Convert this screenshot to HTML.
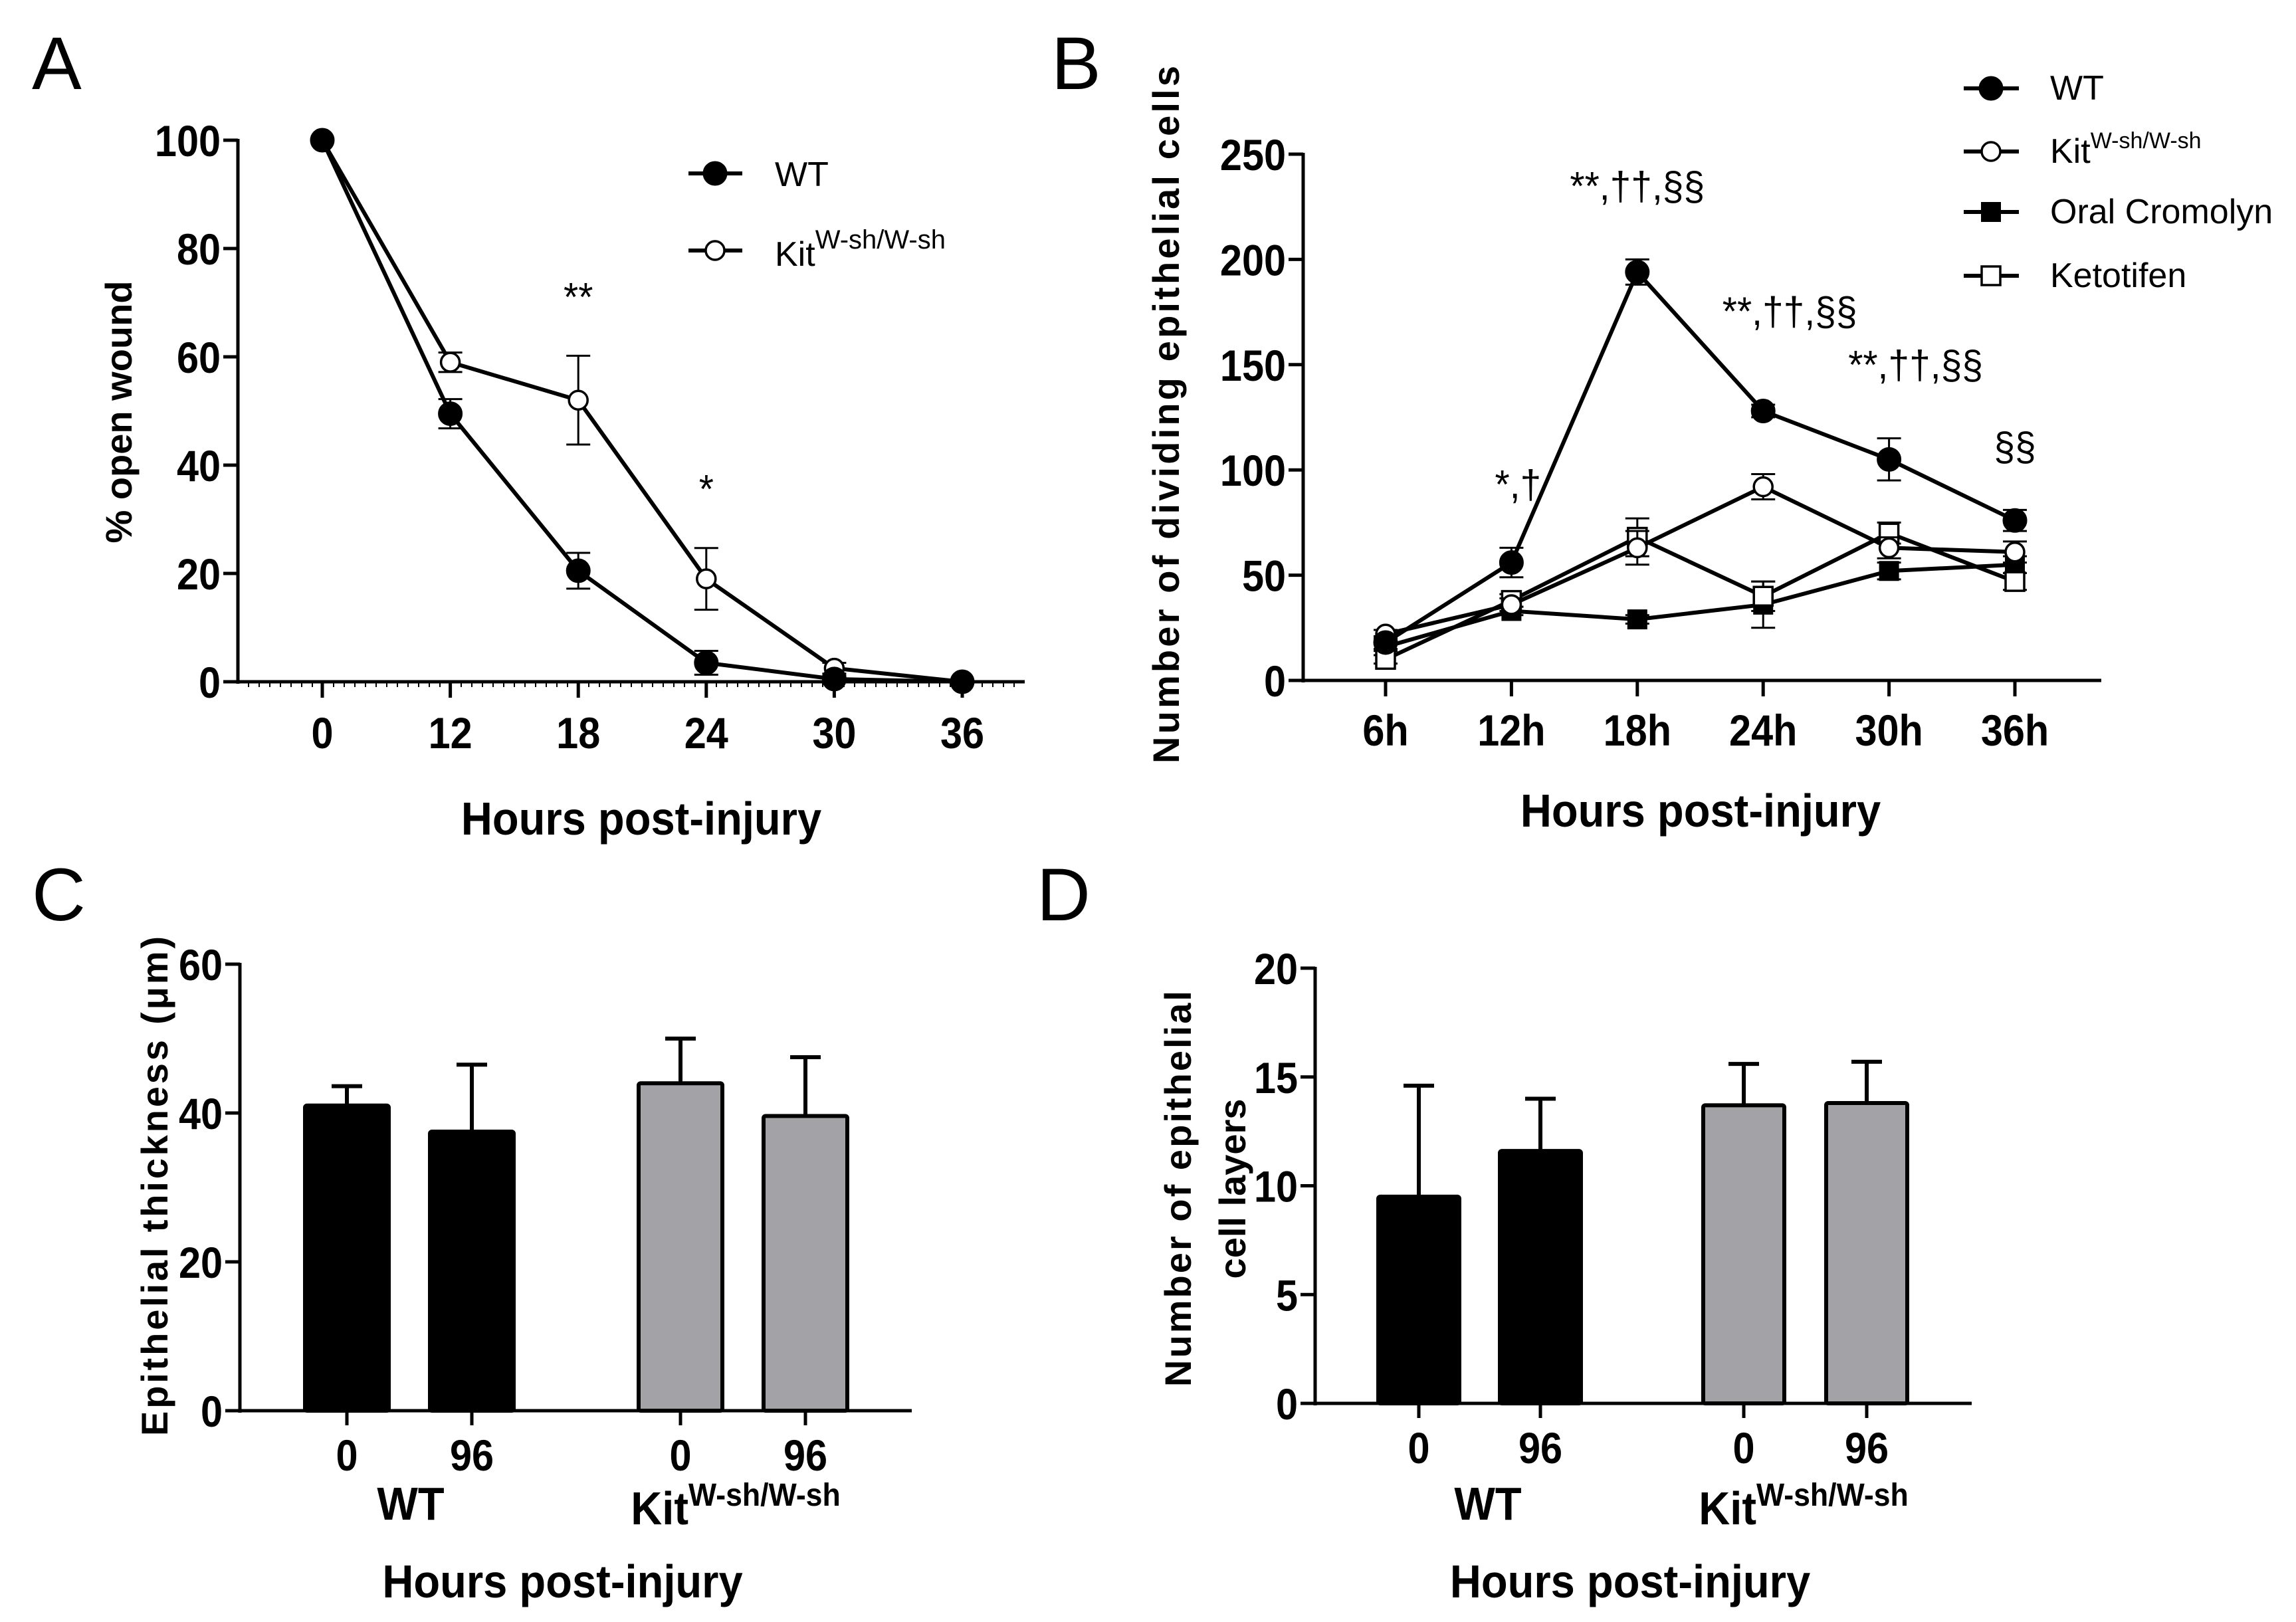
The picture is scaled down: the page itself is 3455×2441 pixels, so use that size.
<!DOCTYPE html>
<html><head><meta charset="utf-8">
<style>
html,body{margin:0;padding:0;background:#fff;}
svg{display:block;}
.tk{font-family:"Liberation Sans",sans-serif;font-weight:bold;font-size:66px;fill:#000;}
.ttl{font-family:"Liberation Sans",sans-serif;font-weight:bold;font-size:70px;fill:#000;}
.yt{font-family:"Liberation Sans",sans-serif;font-weight:bold;font-size:56px;fill:#000;}
.let{font-family:"Liberation Sans",sans-serif;font-size:112px;fill:#000;}
.ann{font-family:"Liberation Sans",sans-serif;font-size:60px;fill:#000;}
.leg{font-family:"Liberation Sans",sans-serif;font-size:52px;fill:#000;}
</style></head>
<body>
<svg id="fig" width="3455" height="2441" viewBox="0 0 3455 2441" xmlns="http://www.w3.org/2000/svg">
<text class="let" x="48" y="134">A</text>
<text class="let" x="1582" y="134">B</text>
<text class="let" x="48" y="1385">C</text>
<text class="let" x="1560" y="1385">D</text>
<g id="pa"></g>
<g id="pb"></g>
<g id="pc"></g>
<g id="pd"></g>
</svg>
<script>
// Panel A data
const aCats = ["0","12","18","24","30","36"];
const aWT = [100, 49.5, 20.5, 3.5, 0.5, 0];
const aWTerr = [0, 2.7, 3.3, 2.2, 0.6, 0];
const aKit = [100, 59, 52, 19, 2.5, 0];
const aKitErr = [0, 1.8, 8.2, 5.7, 1, 0];
const aTicks = [0, 20, 40, 60, 80, 100];
const aStars = ["", "", "**", "*", "", ""];
// Panel B data
const bCats = ["6h","12h","18h","24h","30h","36h"];
const bWT = [18, 56, 194, 128, 105, 76];
const bWTerr = [3, 7, 6, 3, 10, 5];
const bKit = [22, 36, 63, 92, 63, 61];
const bKitErr = [2, 3, 8, 6, 5, 5];
const bCro = [16, 33, 29, 36, 52, 55];
const bCroErr = [2, 2, 2, 11, 4, 4];
const bKet = [10, 38, 68, 40, 70, 47];
const bKetErr = [2, 3, 9, 7, 5, 4];
const bTicks = [0, 50, 100, 150, 200, 250];
const bAnn = ["", "*,\u2020", "**,\u2020\u2020,\u00a7\u00a7", "**,\u2020\u2020,\u00a7\u00a7", "**,\u2020\u2020,\u00a7\u00a7", "\u00a7\u00a7"];
// Panel C data
const cCats = ["0","96","0","96"];
const cVals = [41, 37.5, 44, 39.6];
const cErr = [2.6, 9, 6, 7.9];
const cTicks = [0, 20, 40, 60];
// Panel D data
const dCats = ["0","96","0","96"];
const dVals = [9.5, 11.6, 13.7, 13.8];
const dErr = [5.1, 2.4, 1.9, 1.9];
const dTicks = [0, 5, 10, 15, 20];

const NS = "http://www.w3.org/2000/svg";
const SCALE = {tk: 0.9, ttl: 0.93, ann: 0.95};
function mk(parent, tag, attrs, name) {
  const e = document.createElementNS(NS, tag);
  for (const k in attrs) e.setAttribute(k, attrs[k]);
  
  
  parent.appendChild(e);
  return e;
}
function txt(parent, x, y, s, cls, name, anchor) {
  const sc = SCALE[cls];
  const t = mk(parent, 'text', sc ? {x: 0, y: 0, class: cls, 'text-anchor': anchor || 'middle', transform: 'translate(' + x + ',' + y + ') scale(' + sc + ',1)'} : {x: x, y: y, class: cls, 'text-anchor': anchor || 'middle'}, name);
  t.textContent = s;
  return t;
}
function marker(g, type, x, y, name) {
  if (type === 'fc') mk(g, 'circle', {cx: x, cy: y, r: 17, fill: '#000', stroke: '#000', 'stroke-width': 3}, name);
  else if (type === 'oc') mk(g, 'circle', {cx: x, cy: y, r: 14, fill: '#fff', stroke: '#000', 'stroke-width': 3.5}, name);
  else if (type === 'fs') mk(g, 'rect', {x: x - 15, y: y - 15, width: 30, height: 30, fill: '#000'}, name);
  else mk(g, 'rect', {x: x - 14, y: y - 14, width: 28, height: 28, fill: '#fff', stroke: '#000', 'stroke-width': 3.5}, name);
}
function series(g, xs, vals, errs, yf, type, name) {
  const pts = vals.map((v, i) => xs(i) + ',' + yf(v)).join(' ');
  mk(g, 'polyline', {points: pts, fill: 'none', stroke: '#000', 'stroke-width': 6, 'stroke-linejoin': 'round'}, name + '-line');
  vals.forEach((v, i) => {
    if (errs[i] > 0) {
      const x = xs(i), t = yf(v + errs[i]), b = yf(v - errs[i]);
      mk(g, 'line', {x1: x, y1: t, x2: x, y2: b, stroke: '#000', 'stroke-width': 3}, name + '-errorbar');
      mk(g, 'line', {x1: x - 18, y1: t, x2: x + 18, y2: t, stroke: '#000', 'stroke-width': 3}, name + '-errorcap');
      mk(g, 'line', {x1: x - 18, y1: b, x2: x + 18, y2: b, stroke: '#000', 'stroke-width': 3}, name + '-errorcap');
    }
  });
  vals.forEach((v, i) => marker(g, type, xs(i), yf(v), name + '-point'));
}
function yaxis(g, x, y0, y1, ticks, yf, name) {
  mk(g, 'line', {x1: x, y1: y1 - 2, x2: x, y2: y0 + 3, stroke: '#000', 'stroke-width': 5}, name + '-y-axis');
  ticks.forEach(t => {
    mk(g, 'line', {x1: x - 22, y1: yf(t), x2: x, y2: yf(t), stroke: '#000', 'stroke-width': 5}, name + '-y-tick');
    txt(g, x - 26, yf(t) + 24, String(t), 'tk', name + '-y-tick-label', 'end');
  });
}

// ---------- Panel A ----------
(function () {
  const g = document.getElementById('pa');
  const X0 = 358, Y0 = 1026, Y100 = 211;
  const yf = v => Y0 - (v / 100) * (Y0 - Y100);
  const xs = i => 485 + i * 192.6;
  yaxis(g, X0, Y0, Y100, aTicks, yf, 'panel-a');
  mk(g, 'line', {x1: X0, y1: Y0, x2: 1542, y2: Y0, stroke: '#000', 'stroke-width': 5}, 'panel-a-x-axis');
  for (let x = X0 + 16; x < 1542; x += 16) mk(g, 'line', {x1: x, y1: Y0, x2: x, y2: Y0 + 8, stroke: '#000', 'stroke-width': 2}, 'panel-a-x-minor-tick');
  aCats.forEach((c, i) => {
    mk(g, 'line', {x1: xs(i), y1: Y0, x2: xs(i), y2: Y0 + 24, stroke: '#000', 'stroke-width': 5}, 'panel-a-x-tick');
    txt(g, xs(i), 1126, c, 'tk', 'panel-a-x-tick-label');
  });
  series(g, xs, aKit, aKitErr, yf, 'oc', 'panel-a-kit');
  series(g, xs, aWT, aWTerr, yf, 'fc', 'panel-a-wt');
  aStars.forEach((s, i) => { if (s) txt(g, xs(i), yf(aKit[i] + aKitErr[i]) - 68, s, 'ann', 'panel-a-significance'); });
  const yt = txt(g, 0, 0, '% open wound', 'yt', 'panel-a-y-axis-title');
  yt.setAttribute('transform', 'translate(198,620) rotate(-90)');
  txt(g, 965, 1256, 'Hours post-injury', 'ttl', 'panel-a-x-axis-title');
  // legend
  mk(g, 'line', {x1: 1036, y1: 261, x2: 1117, y2: 261, stroke: '#000', 'stroke-width': 6}, 'legend-wt-line');
  marker(g, 'fc', 1076, 261, 'legend-wt-marker');
  txt(g, 1166, 280, 'WT', 'leg', 'legend-wt-label', 'start');
  mk(g, 'line', {x1: 1036, y1: 377, x2: 1117, y2: 377, stroke: '#000', 'stroke-width': 6}, 'legend-kit-line');
  marker(g, 'oc', 1076, 377, 'legend-kit-marker');
  const k = txt(g, 1166, 400, 'Kit', 'leg', 'legend-kit-label', 'start');
  const s = document.createElementNS(NS, 'tspan'); s.setAttribute('dy', '-26'); s.setAttribute('font-size', '40'); s.textContent = 'W-sh/W-sh'; k.appendChild(s);
})();

// ---------- Panel B ----------
(function () {
  const g = document.getElementById('pb');
  const X0 = 1961, Y0 = 1024, YT = 232;
  const yf = v => Y0 - (v / 250) * (Y0 - YT);
  const xs = i => 2085 + i * 189.4;
  yaxis(g, X0, Y0, YT, bTicks, yf, 'panel-b');
  mk(g, 'line', {x1: X0, y1: Y0, x2: 3162, y2: Y0, stroke: '#000', 'stroke-width': 5}, 'panel-b-x-axis');
  bCats.forEach((c, i) => {
    mk(g, 'line', {x1: xs(i), y1: Y0, x2: xs(i), y2: Y0 + 24, stroke: '#000', 'stroke-width': 5}, 'panel-b-x-tick');
    txt(g, xs(i), 1122, c, 'tk', 'panel-b-x-tick-label');
  });
  series(g, xs, bCro, bCroErr, yf, 'fs', 'panel-b-cromolyn');
  series(g, xs, bKet, bKetErr, yf, 'os', 'panel-b-ketotifen');
  series(g, xs, bKit, bKitErr, yf, 'oc', 'panel-b-kit');
  series(g, xs, bWT, bWTerr, yf, 'fc', 'panel-b-wt');
  const annOff = [0, 10, 0, 40, 40, 0];
  const annUp = [0, 75, 90, 120, 90, 75];
  bAnn.forEach((s, i) => { if (s) txt(g, xs(i) + annOff[i], yf(bWT[i] + bWTerr[i]) - annUp[i], s, 'ann', 'panel-b-significance'); });
  const yt = txt(g, 0, 0, 'Number of dividing epithelial cells', 'yt', 'panel-b-y-axis-title');
  yt.setAttribute('transform', 'translate(1774,624) rotate(-90)');
  yt.setAttribute('textLength', '1050');
  txt(g, 2559, 1244, 'Hours post-injury', 'ttl', 'panel-b-x-axis-title');
  const rows = [[133, 'fc', 'WT'], [228, 'oc', 'Kit'], [319, 'fs', 'Oral Cromolyn'], [415, 'os', 'Ketotifen']];
  rows.forEach(r => {
    mk(g, 'line', {x1: 2955, y1: r[0], x2: 3038, y2: r[0], stroke: '#000', 'stroke-width': 6}, 'legend-line');
    marker(g, r[1], 2996, r[0], 'legend-marker');
    const t = txt(g, 3085, r[0] + 17, r[2], 'leg', 'legend-label', 'start');
    t.setAttribute('font-size', '47');
    if (r[2] === 'Kit') { const s = document.createElementNS(NS, 'tspan'); s.setAttribute('dy', '-22'); s.setAttribute('font-size', '34'); s.textContent = 'W-sh/W-sh'; t.appendChild(s); }
  });
})();

// ---------- Bar panels ----------
function barPanel(id, pre, X0, Y0, YT, ymax, ticks, vals, errs, cats, bx, bw, xEnd, groupX, titleLines, titleX, titleY, titleLen) {
  const g = document.getElementById(id);
  const yf = v => Y0 - (v / ymax) * (Y0 - YT);
  yaxis(g, X0, Y0, YT, ticks, yf, pre);
  vals.forEach((v, i) => {
    const cx = bx[i], top = yf(v), et = yf(v + errs[i]);
    mk(g, 'line', {x1: cx, y1: top, x2: cx, y2: et, stroke: '#000', 'stroke-width': 6}, pre + '-errorbar');
    mk(g, 'line', {x1: cx - 23, y1: et, x2: cx + 23, y2: et, stroke: '#000', 'stroke-width': 6}, pre + '-errorcap');
    mk(g, 'rect', {x: cx - bw / 2, y: top, width: bw, height: Y0 - top, fill: i < 2 ? '#000' : '#a3a3a7', stroke: '#000', 'stroke-width': 6, rx: 3}, pre + '-bar-' + i);
    mk(g, 'line', {x1: cx, y1: Y0, x2: cx, y2: Y0 + 22, stroke: '#000', 'stroke-width': 5}, pre + '-x-tick');
    txt(g, cx, Y0 + 90, cats[i], 'tk', pre + '-x-tick-label');
  });
  mk(g, 'line', {x1: X0, y1: Y0, x2: xEnd, y2: Y0, stroke: '#000', 'stroke-width': 5}, pre + '-x-axis');
  txt(g, groupX[0], 2287, 'WT', 'ttl', pre + '-group-wt-label');
  const k = txt(g, groupX[1] - 10, 2294, 'Kit', 'ttl', pre + '-group-kit-label');
  const s = document.createElementNS(NS, 'tspan'); s.setAttribute('dy', '-28'); s.setAttribute('font-size', '48'); s.textContent = 'W-sh/W-sh'; k.appendChild(s);
  txt(g, (X0 + xEnd) / 2 - 20, 2404, 'Hours post-injury', 'ttl', pre + '-x-axis-title');
  titleLines.forEach((l, j) => {
    const t = txt(g, 0, 0, l, 'yt', pre + '-y-axis-title');
    t.setAttribute('transform', 'translate(' + titleX[j] + ',' + titleY + ') rotate(-90)');
    if (titleLen[j]) t.setAttribute('textLength', titleLen[j]);
  });
}
barPanel('pc', 'panel-c', 361, 2123, 1451, 60, cTicks, cVals, cErr, cCats, [522, 710, 1024, 1212], 126, 1372, [618, 1117],
  ['Epithelial thickness (\u03bcm)'], [252], 1785, [752]);
barPanel('pd', 'panel-d', 1979, 2112, 1457, 20, dTicks, dVals, dErr, dCats, [2135, 2318, 2624, 2809], 122, 2967, [2239, 2724],
  ['Number of epithelial', 'cell layers'], [1792, 1874], 1789, [596, 0]);
</script>
</body></html>
